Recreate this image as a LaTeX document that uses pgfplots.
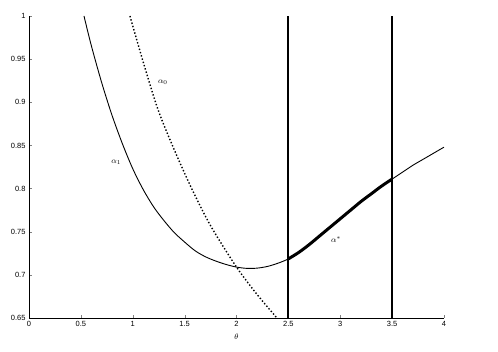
\documentclass[border=0pt]{standalone}
\usepackage{fontspec}
\setmainfont{Liberation Sans}
\usepackage{pgfplots}
\pgfplotsset{compat=1.18}
\begin{document}
\begin{tikzpicture}[x=1pt,y=1pt]
\path (0,0) rectangle (498,352);
\begin{axis}[
  at={(29pt,34pt)}, anchor=origin,
  scale only axis, width=415pt, height=302pt,
  xmin=0, xmax=4, ymin=0.65, ymax=1,
  axis x line*=bottom, axis y line*=left,
  axis line style={line width=0.9pt},
  tick align=inside, major tick length=3pt,
  xtick={0,0.5,...,4}, ytick={0.65,0.7,...,1.0},
  yticklabels={0.65,0.7,0.75,0.8,0.85,0.9,0.95,1},
  xticklabels={0,0.5,1,1.5,2,2.5,3,3.5,4},
  ticklabel style={font=\fontsize{7.5}{8}\selectfont},
  /pgf/number format/assume math mode=true,
  xlabel={$\theta$}, xlabel style={font=\fontsize{8}{9}\selectfont},
  clip=true,
]
% alpha_1
\addplot[black, line width=0.9pt, smooth, tension=0.5] coordinates {
(0.53,1.000)(0.6,0.966)(0.7,0.923)(0.8,0.885)(0.9,0.852)(1.0,0.823)(1.1,0.799)(1.2,0.779)(1.3,0.763)(1.4,0.749)(1.5,0.738)(1.6,0.728)(1.7,0.721)(1.8,0.716)(1.9,0.712)(2.0,0.709)(2.1,0.7075)(2.2,0.7078)(2.3,0.7098)(2.4,0.7135)(2.5,0.7185)(2.6,0.726)(2.7,0.735)(2.8,0.745)(2.9,0.755)(3.0,0.765)(3.1,0.775)(3.2,0.785)(3.3,0.794)(3.4,0.803)(3.5,0.811)(3.6,0.819)(3.7,0.827)(3.8,0.834)(3.9,0.841)(4.0,0.848)};
% alpha_0 dotted
\addplot[black, line width=1.4pt, dotted, smooth, tension=0.5] coordinates {
(0.973,1.0)(1.1,0.947)(1.245,0.891)(1.4,0.845)(1.568,0.80)(1.75,0.757)(2.0,0.709)(2.2,0.677)(2.39,0.65)};
% alpha* thick segment
\addplot[black, line width=3pt, smooth, tension=0.5] coordinates {
(2.5,0.7185)(2.6,0.726)(2.7,0.735)(2.8,0.745)(2.9,0.755)(3.0,0.765)(3.1,0.775)(3.2,0.785)(3.3,0.794)(3.4,0.803)(3.5,0.811)};
% vertical lines
\addplot[black, line width=2pt] coordinates {(2.5,0.65)(2.5,1.0)};
\addplot[black, line width=2pt] coordinates {(3.5,0.65)(3.5,1.0)};
\node[font=\fontsize{8}{9}\selectfont] at (axis cs:0.84,0.83) {$\alpha_1$};
\node[font=\fontsize{8}{9}\selectfont] at (axis cs:1.29,0.923) {$\alpha_0$};
\node[font=\fontsize{8}{9}\selectfont] at (axis cs:2.96,0.741) {$\alpha^{*}$};
\end{axis}
\end{tikzpicture}
\end{document}
